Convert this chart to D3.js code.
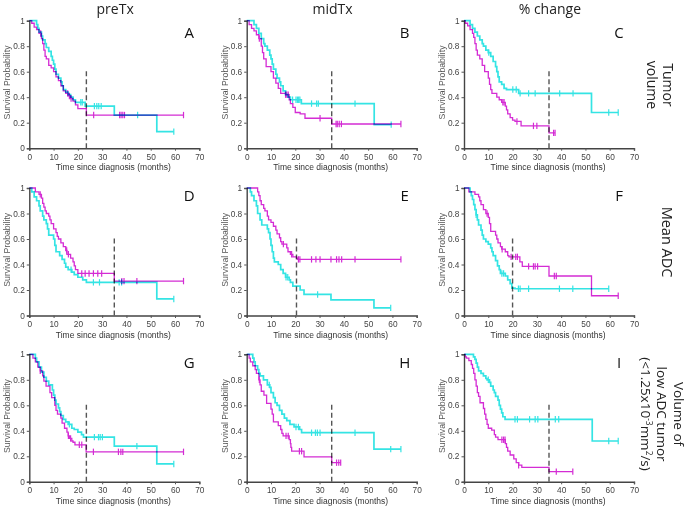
<!DOCTYPE html>
<html><head><meta charset="utf-8">
<script src="https://cdn.jsdelivr.net/npm/d3@7"></script>
<style>body{margin:0;background:#fff}svg{display:block}</style>
</head><body>
<svg id="c" width="688" height="508"></svg>
<script>
// ---- data ----
const colTitles = ["preTx", "midTx", "% change"];
const panelLetters = ["A","B","C","D","E","F","G","H","I"];
// row labels; segments: [text, isSuperscript]
const rowLabels = [
  [[["Tumor",0]],[["volume",0]]],
  [[["Mean ADC",0]]],
  [[["Volume of",0]],[["low ADC tumor",0]],[["(<1.25x10",0],["-3",1],["mm",0],["2",1],["/s)",0]]]
];
const xTicks = [0,10,20,30,40,50,60,70];
const yTicks = [0,0.2,0.4,0.6,0.8,1];
const cutoffs = [23.5,35,35,35,20.5,20,23.5,35,35];
const cutoffTop = 0.625;

const aCyan = [[3,0.97],[3.5,0.94],[4,0.91],[5,0.88],[5.5,0.85],[6.5,0.82],[7,0.79],[8,0.76],[9,0.72],[9.5,0.69],[10,0.66],[10.5,0.62],[11,0.58],[12,0.55],[13,0.52],[13.5,0.49],[14,0.46],[15,0.44],[16,0.42],[17,0.40],[18,0.38],[19,0.36],[23,0.33],[35,0.26],[52.5,0.13]];
const aCyanCens = [21.2,21.8,26.8,27.8,28.6,29.6,44.6,59.5];
const aMag = [[1,0.98],[2,0.95],[3,0.93],[4,0.9],[5,0.86],[5.5,0.82],[6,0.77],[6.5,0.72],[7,0.7],[8,0.65],[9,0.63],[10,0.6],[11,0.56],[12,0.53],[13,0.49],[14,0.45],[15,0.43],[16,0.41],[17,0.39],[18,0.37],[19,0.34],[20,0.31],[23.5,0.26]];
const aMagCens = [4.7,15.8,16.5,17.2,26.5,37.2,37.8,38.5,39.2,63.5];

const bCyan = [[3,0.97],[4,0.94],[5,0.9],[6,0.86],[7,0.82],[7.5,0.8],[8.5,0.77],[9.5,0.73],[10,0.7],[10.5,0.66],[11,0.62],[12,0.58],[12.5,0.55],[13.5,0.52],[14,0.49],[15,0.45],[16,0.42],[17,0.40],[18,0.38],[22.5,0.35],[52.5,0.185]];
const bCyanCens = [18.9,20.3,20.9,21.4,21.9,26.7,28.8,29.5,44.6,59.5];
const bMag = [[1,0.97],[2,0.94],[3,0.92],[4,0.89],[5,0.86],[6,0.8],[6.5,0.75],[7,0.7],[8,0.64],[10,0.6],[11,0.55],[12,0.51],[13,0.47],[14,0.43],[16,0.42],[17.5,0.38],[18,0.35],[19,0.32],[20,0.28],[22,0.27],[24,0.235],[35,0.19]];
const bMagCens = [5.2,16.0,16.5,17.1,30.2,36.8,37.3,38.1,39.0,63.5];

const cCyan = [[2.5,0.97],[3.5,0.94],[4.5,0.91],[5.5,0.88],[6.5,0.85],[7.5,0.82],[8,0.8],[9,0.77],[10,0.75],[11,0.72],[12,0.68],[13,0.64],[13.5,0.6],[14,0.56],[14.5,0.52],[15.5,0.5],[16.5,0.47],[17.5,0.46],[22.5,0.43],[52.5,0.28]];
const cCyanCens = [10.2,20.1,21.5,23.1,26.6,29.3,39.4,44.9,59.6,63.5];
const cMag = [[0.5,0.98],[1.5,0.96],[2.5,0.93],[3.5,0.9],[4,0.87],[4.5,0.82],[5,0.77],[5.5,0.73],[6.5,0.7],[7.5,0.65],[8.5,0.6],[10,0.55],[10.5,0.5],[11,0.46],[11.5,0.43],[13.5,0.4],[14.5,0.38],[15.5,0.36],[17,0.33],[17.5,0.3],[18,0.27],[19,0.24],[20,0.22],[21,0.21],[23.5,0.175],[35,0.12]];
const cMagCens = [16.0,16.5,21.8,28.6,30.0,36.9,37.5];

const dCyan = [[1,0.97],[2,0.93],[3,0.9],[4,0.86],[4.5,0.82],[5.5,0.78],[6,0.75],[7,0.72],[7.5,0.68],[8,0.63],[10,0.6],[10.5,0.55],[11,0.5],[12.5,0.47],[13.5,0.44],[14.5,0.41],[15,0.38],[16,0.36],[17.5,0.34],[18.5,0.32],[20,0.3],[22,0.28],[23.5,0.26],[52.5,0.13]];
const dCyanCens = [17.2,26.4,28.9,37.0,38.0,59.5];
const dMag = [[2.5,0.97],[4,0.95],[5,0.92],[5.5,0.88],[6,0.85],[6.5,0.82],[7,0.8],[8,0.78],[8.5,0.75],[9,0.72],[10,0.68],[11,0.65],[11.5,0.62],[12,0.6],[13,0.57],[14,0.54],[15,0.51],[15.5,0.48],[17,0.45],[18,0.42],[18.5,0.39],[19,0.36],[20,0.33],[35,0.27]];
const dMagCens = [4.5,15.4,16.1,21.6,23.0,24.6,26.4,28.2,29.8,38.1,39.0,44.3,63.5];

const eCyan = [[1.5,0.97],[2,0.94],[3,0.9],[4,0.86],[4.5,0.8],[5.5,0.75],[6.2,0.71],[8.5,0.68],[9,0.65],[9.6,0.6],[10,0.55],[10.5,0.5],[11,0.45],[11.4,0.42],[13,0.4],[14,0.36],[15,0.33],[16,0.3],[17.5,0.28],[18,0.26],[19,0.23],[22,0.2],[23.6,0.165],[34.7,0.123],[52.4,0.06]];
const eCyanCens = [16.2,16.9,29.2,59.3];
const eMag = [[4.5,0.97],[5,0.94],[5.5,0.9],[6,0.87],[7,0.84],[7.5,0.82],[8.5,0.78],[9,0.75],[10,0.73],[11,0.7],[12,0.67],[12.5,0.64],[13.5,0.61],[14,0.58],[14.5,0.56],[16.5,0.53],[17,0.5],[18,0.48],[19,0.46],[20.5,0.45],[21,0.44]];
const eMagCens = [15.1,18.5,21.3,21.9,26.7,28.5,30.2,34.7,37.0,38.0,39.1,44.6,63.5];

const fCyan = [[2.5,0.97],[3,0.94],[3.5,0.91],[4,0.87],[4.5,0.83],[5,0.79],[5.5,0.75],[6,0.71],[7,0.67],[7.5,0.63],[8,0.6],[9,0.58],[10,0.56],[11,0.53],[11.5,0.5],[12,0.47],[13,0.43],[13.8,0.39],[14.5,0.36],[15,0.33],[17,0.31],[18,0.28],[19,0.25],[19.7,0.215],[21,0.21]];
const fCyanCens = [5.0,15.6,16.3,22.4,23.1,26.6,39.3,44.8,59.6];
const fMag = [[2,0.97],[4.5,0.95],[6,0.93],[6.5,0.9],[7,0.87],[8,0.83],[9,0.8],[10,0.77],[10.5,0.72],[11,0.66],[13,0.63],[13.5,0.6],[14,0.57],[15,0.54],[15.5,0.52],[17,0.5],[18,0.47],[18.5,0.46],[23,0.42],[24,0.385],[35,0.31],[52.5,0.155]];
const fMagCens = [9.5,15.7,19.4,21.3,22.0,26.6,28.6,29.3,30.3,37.2,38.0,63.5];

const gCyan = [[2.5,0.97],[3,0.94],[4,0.9],[5,0.86],[6,0.82],[7,0.79],[8,0.76],[9.5,0.72],[10,0.68],[10.5,0.64],[11,0.61],[12,0.58],[12.5,0.55],[13,0.52],[14,0.49],[15,0.47],[16,0.45],[17.5,0.42],[18.5,0.41],[20,0.39],[21.5,0.37],[22.3,0.35],[35,0.28],[52.5,0.14]];
const gCyanCens = [16.5,26.8,28.5,29.2,30.1,44.3,59.5];
const gMag = [[1.5,0.97],[2.5,0.94],[3.5,0.9],[4.5,0.87],[5.5,0.83],[6,0.79],[6.9,0.75],[8.5,0.7],[9.2,0.66],[10.5,0.6],[11,0.56],[11.6,0.53],[13,0.5],[13.5,0.46],[14.5,0.42],[15.5,0.39],[16,0.36],[16.5,0.34],[17.5,0.32],[18,0.31],[18.8,0.29],[23.4,0.235]];
const gMagCens = [4.5,16.1,17.0,20.6,21.6,26.4,36.7,37.7,38.5,63.5];

const hCyan = [[2.5,0.97],[3,0.94],[3.5,0.91],[4.5,0.88],[5,0.85],[5.5,0.83],[6.9,0.8],[8.5,0.76],[9.5,0.74],[10,0.7],[11,0.66],[11.7,0.62],[12.5,0.6],[13.5,0.56],[14.5,0.53],[15.5,0.5],[16.5,0.48],[17.8,0.45],[19.5,0.43],[21.8,0.41],[22.6,0.385],[52.4,0.256]];
const hCyanCens = [9.3,20.3,21.3,26.7,28.3,29.1,30.2,44.6,59.3,63.5];
const hMag = [[1,0.97],[1.5,0.94],[2.5,0.91],[3.5,0.88],[4,0.85],[5,0.8],[5.5,0.76],[6,0.71],[7.1,0.68],[8.2,0.615],[10,0.57],[10.5,0.53],[11,0.47],[13,0.44],[14,0.41],[14.5,0.38],[15,0.36],[17.5,0.33],[18,0.3],[18.2,0.27],[18.5,0.24],[23.6,0.196],[35,0.15]];
const hMagCens = [5.2,16.2,17.1,21.7,22.6,37.0,37.9,38.7];

const iCyan = [[3.9,0.98],[4.5,0.96],[5,0.93],[5.5,0.9],[6,0.87],[7,0.85],[8,0.83],[9,0.81],[9.5,0.8],[10.5,0.78],[11,0.75],[12,0.72],[12.5,0.7],[13,0.67],[14,0.64],[14.5,0.6],[15,0.57],[15.5,0.54],[16,0.51],[16.9,0.49],[52.8,0.32]];
const iCyanCens = [10.0,21.0,22.0,27.0,29.3,30.4,37.6,39.0,59.6,63.5];
const iMag = [[0.5,0.98],[1,0.97],[2,0.95],[3,0.92],[3.5,0.89],[4,0.85],[4.5,0.8],[5,0.75],[5.5,0.7],[6,0.67],[6.6,0.62],[8,0.575],[8.5,0.53],[9,0.49],[9.5,0.45],[10,0.42],[11.4,0.405],[12.5,0.37],[13,0.35],[14,0.33],[17,0.3],[17.5,0.27],[18,0.24],[19,0.21],[20.5,0.18],[21.5,0.15],[22.5,0.13],[23.8,0.113],[35,0.08]];
const iMagCens = [15.6,16.3,16.9,22.5,38.0,44.8];

const cyanCurves = [aCyan,bCyan,cCyan,dCyan,eCyan,fCyan,gCyan,hCyan,iCyan];
const cyanCens = [aCyanCens,bCyanCens,cCyanCens,dCyanCens,eCyanCens,fCyanCens,gCyanCens,hCyanCens,iCyanCens];
const magCurves = [aMag,bMag,cMag,dMag,eMag,fMag,gMag,hMag,iMag];
const magCens = [aMagCens,bMagCens,cMagCens,dMagCens,eMagCens,fMagCens,gMagCens,hMagCens,iMagCens];

// ---- layout ----
const colX = [29.3, 246.7, 464];
const rowY = [20.7, 188, 354.3];
const W = 170, H = 127.5;
const CYAN = "#34e4e4", MAG = "#d42cd4";
const axisFont = "Liberation Sans, Arial, sans-serif";
const titleFont = "Open Sans, Noto Sans, sans-serif";

const svg = d3.select("#c");
const x = d3.scaleLinear().domain([0,70]).range([0,W]);
const y = d3.scaleLinear().domain([0,1]).range([H,0]);
const line = d3.line().x(d=>x(d[0])).y(d=>y(d[1])).curve(d3.curveStepAfter);

function survAt(steps, t){
  let s = 1;
  for (const [ti, si] of steps) { if (ti <= t) s = si; }
  return s;
}

// column titles
colTitles.forEach((t,i)=>{
  svg.append("text").attr("x", colX[i]+W*0.505).attr("y", 13.5)
    .attr("text-anchor","middle").attr("font-family",titleFont).attr("font-size",14).attr("fill","#222").text(t);
});

// row labels (rotated clockwise)
const rowLabelX = [660, 667, 662];
const rowLabelCY = [85, 242, 414];
const rowLabelSize = [14, 14.5, 13.5];
const rowLabelGap = [16, 17, 16.5];
rowLabels.forEach((lines,r)=>{
  const g = svg.append("g").attr("transform",`translate(${rowLabelX[r]},${rowLabelCY[r]}) rotate(90)`);
  const n = lines.length;
  lines.forEach((segs,k)=>{
    const t = g.append("text").attr("x",0).attr("y", (k - (n-1)/2)*rowLabelGap[r] + 5)
      .attr("text-anchor","middle").attr("font-family",titleFont).attr("font-size",rowLabelSize[r]).attr("fill","#222");
    let up = false;
    segs.forEach(([s,sup])=>{
      const ts = t.append("tspan").text(s);
      if (sup && !up){ ts.attr("font-size",rowLabelSize[r]*0.62).attr("dy",-5); up = true; }
      else if (!sup && up){ ts.attr("dy",5); up = false; }
    });
  });
});

for (let p=0;p<9;p++){
  const r = Math.floor(p/3), c = p%3;
  const g = svg.append("g").attr("transform",`translate(${colX[c]},${rowY[r]})`);

  // axes
  const xa = g.append("g").attr("transform",`translate(0,${H})`)
    .call(d3.axisBottom(x).tickValues(xTicks).tickSize(2.5).tickPadding(3).tickFormat(d3.format("d")));
  const ya = g.append("g")
    .call(d3.axisLeft(y).tickValues(yTicks).tickSize(2.5).tickPadding(2).tickFormat(d=> (d===0||d===1)? String(d) : d.toFixed(1)));
  [xa,ya].forEach(a=>{
    a.select(".domain").attr("stroke","#444").attr("stroke-width",1.4);
    a.selectAll(".tick line").attr("stroke","#555");
    a.selectAll("text").attr("font-family",axisFont).attr("font-size",8.3).attr("fill","#444");
  });

  // axis labels
  g.append("text").attr("x", x(35)-1).attr("y", H+22).attr("text-anchor","middle")
    .attr("font-family",axisFont).attr("font-size",8.5).attr("fill","#333").text("Time since diagnosis (months)");
  g.append("text").attr("transform",`translate(${-19},${H/2 - 2}) rotate(-90)`).attr("text-anchor","middle")
    .attr("font-family",axisFont).attr("font-size",8.7).attr("fill","#555").text("Survival Probability");

  // panel letter
  g.append("text").attr("x", W-10 - (c===0?0:(c===1?2:5))).attr("y", r===1? 12.5 : (r===0?17:13.5)).attr("text-anchor","middle")
    .attr("font-family",titleFont).attr("font-size",15).attr("fill","#111").text(panelLetters[p]);

  // dashed cutoff
  g.append("line").attr("x1",x(cutoffs[p])).attr("x2",x(cutoffs[p])).attr("y1",y(0)).attr("y2",y(cutoffTop))
    .attr("stroke","#555").attr("stroke-width",1.4).attr("stroke-dasharray","5,3");

  // curves
  const curves = [[cyanCurves[p], cyanCens[p], CYAN, 1.7],[magCurves[p], magCens[p], MAG, 1.3]];
  curves.forEach(([steps, cens, col, sw])=>{
    const end = Math.max(d3.max(cens), steps[steps.length-1][0]);
    const pts = [[0,1], ...steps, [end, steps[steps.length-1][1]]];
    const cg = g.append("g").style("mix-blend-mode","multiply");
    cg.append("path").attr("d", line(pts)).attr("fill","none").attr("stroke",col).attr("stroke-width",sw);
    cg.selectAll("line.cens").data(cens).enter().append("line")
      .attr("x1",d=>x(d)).attr("x2",d=>x(d))
      .attr("y1",d=>y(survAt(steps,d))-3.2).attr("y2",d=>y(survAt(steps,d))+3.2)
      .attr("stroke",col).attr("stroke-width",1.2);
  });
}
</script>
</body></html>
